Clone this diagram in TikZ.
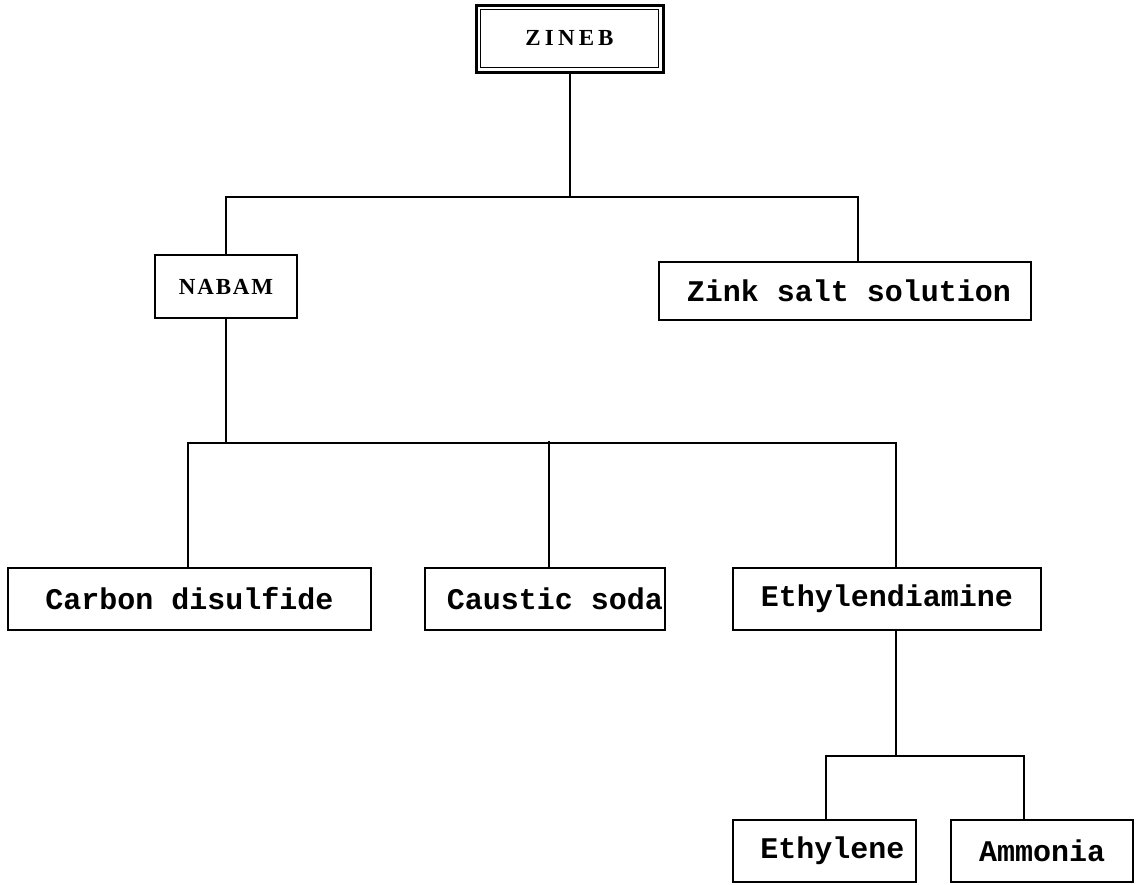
\documentclass[tikz,border=0pt]{standalone}
\usepackage{fontspec}
\usetikzlibrary{calc}
\newfontfamily\monofont{Liberation Mono}
\newfontfamily\capsfont[LetterSpace=18]{Liberation Serif}
\newfontfamily\capsfontb[LetterSpace=8]{Liberation Serif}
\begin{document}
\begin{tikzpicture}[x=1pt,y=-1pt,
  box/.style={draw=black, line width=2pt, inner sep=0pt, minimum height=62pt,
              font=\monofont\bfseries\fontsize{30}{32}\selectfont},
  link/.style={draw=black, line width=2pt}]
\useasboundingbox (0,0) rectangle (1137,884);

% top product, framed twice
\node[box, line width=3pt, minimum width=187pt, minimum height=67pt,
      font=\capsfont\bfseries\fontsize{23}{25}\selectfont] (zineb) at (569.5,38.5) {ZINEB};
\draw[line width=1.4pt] ($(zineb.north west)+(6,6)$) rectangle ($(zineb.south east)+(-6,-6)$);

% first level
\node[box, minimum width=142pt, minimum height=63pt,
      font=\capsfontb\bfseries\fontsize{23}{25}\selectfont] (nabam) at (226,286.5) {NABAM};
\node[box, minimum width=372pt, minimum height=58pt] (zink) at (845,291) {\hspace{8pt}Zink salt solution};

% second level
\node[box, minimum width=363pt] (carbon) at (189.5,599) {Carbon disulfide\hspace{22pt}};
\node[box, minimum width=240pt] (soda) at (545,599) {\hspace{20pt}Caustic soda};
\node[box, minimum width=308pt] (eda) at (887,599) {Ethylendiamine};

% third level
\node[box, minimum width=183pt] (ethylene) at (824.5,851) {\hspace{16pt}Ethylene};
\node[box, minimum width=182pt] (ammonia) at (1042,851) {Ammonia};

% connectors
\draw[link] (zineb.south) -- ++(0,123) coordinate (j1);
\draw[link] (nabam.north) |- (j1) -| ($(zink.north)+(13,0)$);

\draw[link] (nabam.south) -- ++(0,124) coordinate (j2);
\draw[link] ($(carbon.north)+(-1.5,0)$) |- (j2) -| ($(eda.north)+(9,0)$);
\draw[link] ($(soda.north)+(4,0)$) -- ($(soda.north)+(4,-126)$);

\draw[link] ($(eda.south)+(9,0)$) -- ++(0,125) coordinate (j3);
\draw[link] ($(ethylene.north)+(1.5,0)$) |- (j3) -| ($(ammonia.north)+(-18,0)$);
\end{tikzpicture}
\end{document}
